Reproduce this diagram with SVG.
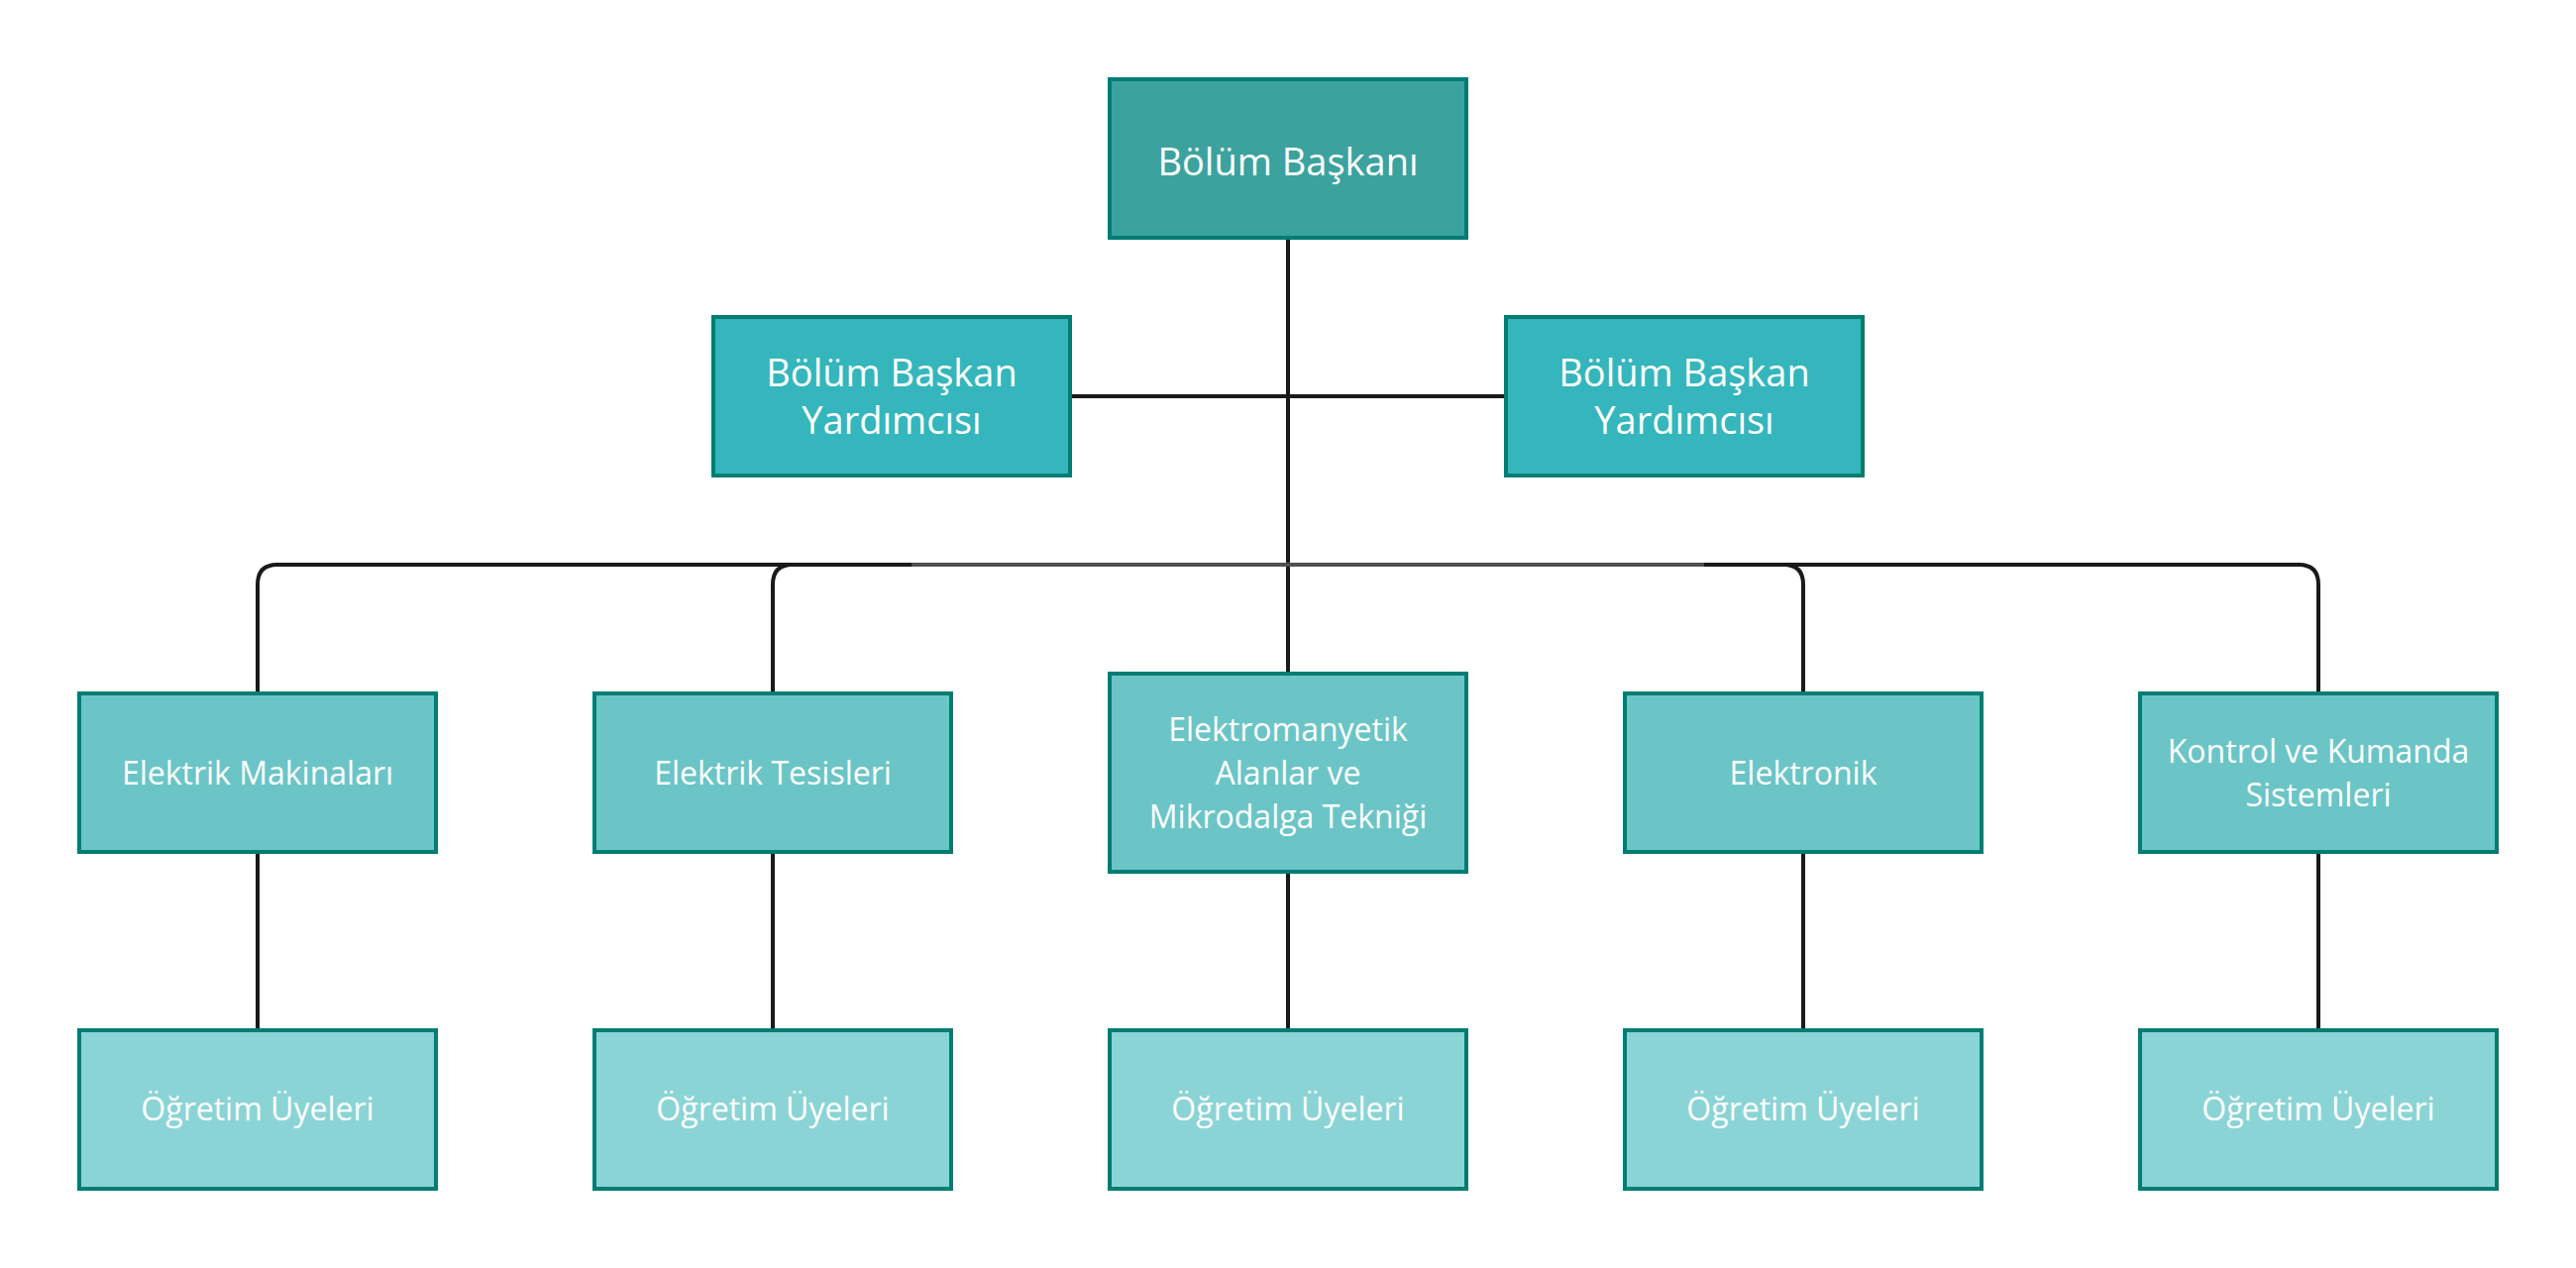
<svg xmlns="http://www.w3.org/2000/svg" width="2600" height="1280" viewBox="0 0 2600 1280">
<style>
.n rect{stroke:#007d73;stroke-width:4}
.n text{font-family:"Open Sans","Noto Sans",sans-serif;fill:#ffffff;text-anchor:middle}
.t text{font-size:38px}
.a text{font-size:38px}
.d text{font-size:32px}
.c{fill:none;stroke:#1a1a1a;stroke-width:4}
</style>
<rect width="2600" height="1280" fill="#ffffff"/>
<g id="connectors">
<path class="c" d="M1300 240V680"/>
<path class="c" d="M1080 400H1520"/>
<path class="c" d="M260 700V590Q260 570 280 570H2320Q2340 570 2340 590V700"/>
<path class="c" d="M780 700V590Q780 570 800 570"/>
<path class="c" d="M1820 700V590Q1820 570 1800 570"/>
<path class="c" d="M920 570H1720" style="stroke:#505050"/>
<path class="c" d="M260 860V1040M780 860V1040M1300 880V1040M1820 860V1040M2340 860V1040"/>
</g>
<g id="n-baskan" class="n t"><rect x="1120" y="80" width="360" height="160" fill="#3ca29e"/><text x="1300" y="177">Bölüm Başkanı</text></g>
<g id="n-yard1" class="n a"><rect x="720" y="320" width="360" height="160" fill="#34b6bc"/><text x="900" y="390">Bölüm Başkan</text><text x="900" y="438">Yardımcısı</text></g>
<g id="n-yard2" class="n a"><rect x="1520" y="320" width="360" height="160" fill="#34b6bc"/><text x="1700" y="390">Bölüm Başkan</text><text x="1700" y="438">Yardımcısı</text></g>
<g id="n-makina" class="n d"><rect x="80" y="700" width="360" height="160" fill="#6bc5c6"/><text x="260" y="792">Elektrik Makinaları</text></g>
<g id="n-tesis" class="n d"><rect x="600" y="700" width="360" height="160" fill="#6bc5c6"/><text x="780" y="792">Elektrik Tesisleri</text></g>
<g id="n-emag" class="n d"><rect x="1120" y="680" width="360" height="200" fill="#6bc5c6"/><text x="1300" y="748">Elektromanyetik</text><text x="1300" y="792">Alanlar ve</text><text x="1300" y="836">Mikrodalga Tekniği</text></g>
<g id="n-elektronik" class="n d"><rect x="1640" y="700" width="360" height="160" fill="#6bc5c6"/><text x="1820" y="792">Elektronik</text></g>
<g id="n-kontrol" class="n d"><rect x="2160" y="700" width="360" height="160" fill="#6bc5c6"/><text x="2340" y="770">Kontrol ve Kumanda</text><text x="2340" y="814">Sistemleri</text></g>
<g id="n-ou1" class="n d"><rect x="80" y="1040" width="360" height="160" fill="#8bd4d6"/><text x="260" y="1131">Öğretim Üyeleri</text></g>
<g id="n-ou2" class="n d"><rect x="600" y="1040" width="360" height="160" fill="#8bd4d6"/><text x="780" y="1131">Öğretim Üyeleri</text></g>
<g id="n-ou3" class="n d"><rect x="1120" y="1040" width="360" height="160" fill="#8bd4d6"/><text x="1300" y="1131">Öğretim Üyeleri</text></g>
<g id="n-ou4" class="n d"><rect x="1640" y="1040" width="360" height="160" fill="#8bd4d6"/><text x="1820" y="1131">Öğretim Üyeleri</text></g>
<g id="n-ou5" class="n d"><rect x="2160" y="1040" width="360" height="160" fill="#8bd4d6"/><text x="2340" y="1131">Öğretim Üyeleri</text></g>
</svg>
